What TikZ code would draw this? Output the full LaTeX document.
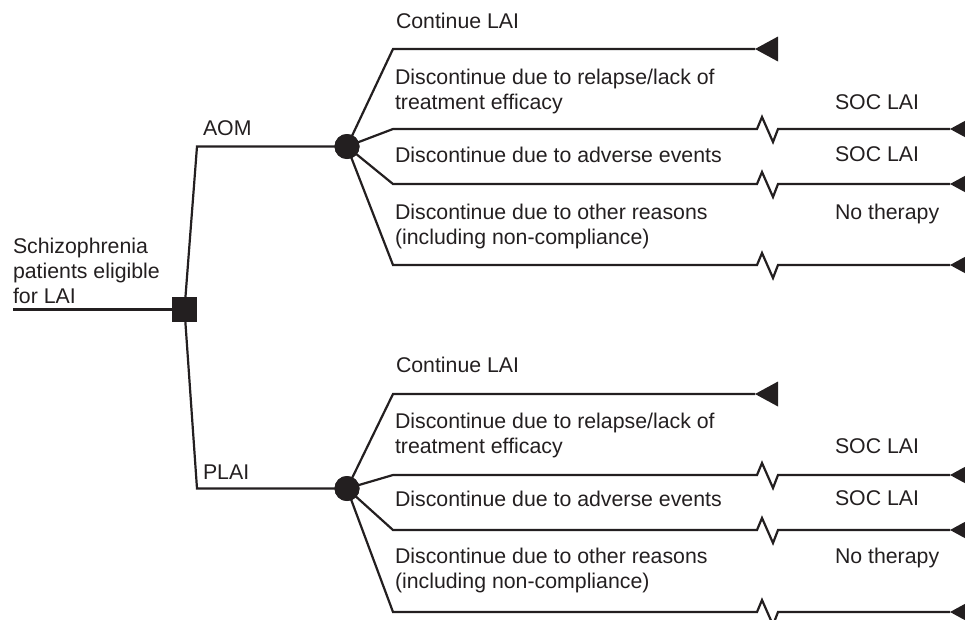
\documentclass[tikz,border=0pt]{standalone}
\usepackage{fontspec}
\setmainfont{Liberation Sans}
\definecolor{ink}{RGB}{35,31,32}
\begin{document}
\begin{tikzpicture}[x=1pt,y=-1pt, line width=2.2pt, line join=miter, draw=ink,
  lbl/.style={anchor=north west, inner sep=0pt, outer sep=0pt, align=left, text=ink,
              font=\fontsize{21.3}{25}\selectfont},
  chance/.style={circle, fill=ink, draw=none, minimum size=25pt, inner sep=0pt},
  decision/.style={rectangle, fill=ink, draw=none, minimum size=25pt, inner sep=0pt},
  tip/.style={fill=ink, draw=none}]
\useasboundingbox (0,0) rectangle (965,619);
\clip (0,0) rectangle (965,619);

% --- coordinates
\coordinate (start) at (13,309.5);
\coordinate (aom) at (197,146.5);
\coordinate (plai) at (197,488.5);
\coordinate (u1) at (393,49);
\coordinate (u2) at (393,129);
\coordinate (u3) at (393,184);
\coordinate (u4) at (393,265);
\coordinate (l1) at (393,394);
\coordinate (l2) at (393,475);
\coordinate (l3) at (393,530);
\coordinate (l4) at (393,612);
\coordinate (ue1) at (755,49);
\coordinate (ue2) at (950,129);
\coordinate (ue3) at (950,184);
\coordinate (ue4) at (950,265);
\coordinate (le1) at (755,394);
\coordinate (le2) at (950,475);
\coordinate (le3) at (950,530);
\coordinate (le4) at (950,612);

% --- nodes
\path (184.5,309.5) node[decision] (sq) {};
\path (347,146.5) node[chance] (c1) {};
\path (347,488.5) node[chance] (c2) {};

% --- connectors
\draw (start) -- (sq.center);
\draw (sq.center) -- (aom) -- (c1.center);
\draw (sq.center) -- (plai) -- (c2.center);

\foreach \c/\a in {c1/u, c2/l} {
  \draw (\c.center) -- (\a1) -- (\a e1);
  \foreach \k in {2,3,4} {
    \draw (\c.center) -- (\a\k) -- ++(364,0) -- ++(5,-12) -- ++(11,25) -- ++(5,-13) -- (\a e\k);
  }
  \fill[ink] (\a e1) -- ++(23,-12.5) -- ++(0,25) -- cycle;
  \foreach \k in {2,3,4} {
    \fill[ink] (\a e\k) -- ++(23,-12.5) -- ++(0,25) -- cycle;
  }
}

% redraw nodes on top
\node[decision] at (sq) {};
\node[chance] at (c1) {};
\node[chance] at (c2) {};

% --- labels
\node[lbl] (root) at (13,238) {Schizophrenia\\patients eligible\\for LAI};
\node[lbl] (laom) at (203,121) {AOM};
\node[lbl] (lplai) at (203,465) {PLAI};

\foreach \o/\s in {0/a, 344/b} {
  \node[lbl] (cont\s) at (396,13.5+\o) {Continue LAI};
  \node[lbl] (rel\s) at (395,69.5+\o) {Discontinue due to relapse/lack of\\treatment efficacy};
  \node[lbl] (ae\s) at (395,147+\o) {Discontinue due to adverse events};
  \node[lbl] (oth\s) at (395,204.5+\o) {Discontinue due to other reasons\\(including non-compliance)};
  \node[lbl] (soca\s) at (835,95+\o) {SOC LAI};
  \node[lbl] (socb\s) at (835,147+\o) {SOC LAI};
  \node[lbl] (not\s) at (835,204.5+\o) {No therapy};
}
\end{tikzpicture}
\end{document}
